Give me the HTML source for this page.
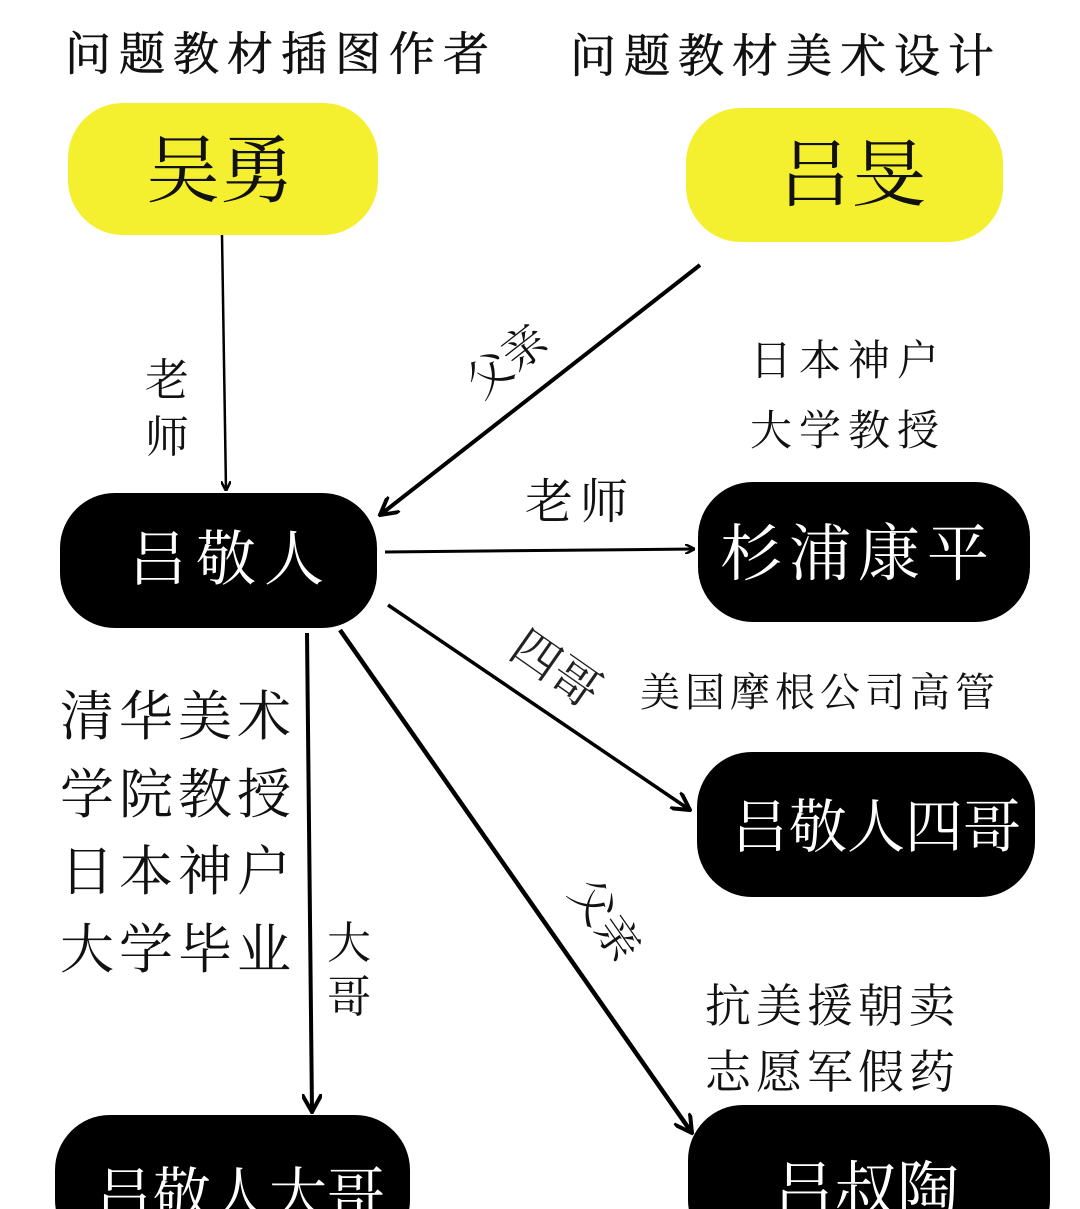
<!DOCTYPE html>
<html><head><meta charset="utf-8"><style>
html,body{margin:0;padding:0;background:#fff;}
svg{display:block}
text{font-family:"Liberation Sans","Noto Serif CJK SC","Noto Sans CJK SC",serif;}
</style></head><body>
<svg width="1080" height="1209" viewBox="0 0 1080 1209" xmlns="http://www.w3.org/2000/svg">
<defs>
<marker id="ah" markerWidth="10" markerHeight="10" refX="9" refY="5" orient="auto" markerUnits="userSpaceOnUse">
<path d="M0,0 L10,5 L0,10" fill="none" stroke="#000" stroke-width="2.5"/>
</marker>
<marker id="ahb" markerWidth="20" markerHeight="20" refX="18" refY="10" orient="auto" markerUnits="userSpaceOnUse">
<path d="M0,0 L18,10 L0,20" fill="none" stroke="#000" stroke-width="4"/>
</marker>
</defs>
<g font-size="46" fill="#111" stroke="#111" stroke-width="0.6" letter-spacing="8">
<text x="65" y="70">问题教材插图作者</text>
<text x="570" y="72">问题教材美术设计</text>
</g>
<rect x="68" y="103" width="310" height="132" rx="55" fill="#f4f030"/>
<text x="220" y="196" font-size="74" text-anchor="middle" fill="#111">吴勇</text>
<rect x="686" y="108" width="317" height="134" rx="55" fill="#f4f030"/>
<text x="852" y="200" font-size="74" text-anchor="middle" fill="#111">吕旻</text>

<line x1="222" y1="235" x2="226" y2="490" stroke="#000" stroke-width="2.5" marker-end="url(#ah)"/>
<g font-size="44" fill="#111"><text x="145" y="395">老</text><text x="145" y="452">师</text></g>

<line x1="700" y1="265" x2="380" y2="515" stroke="#000" stroke-width="4" marker-end="url(#ahb)"/>
<text x="510" y="375" font-size="44" text-anchor="middle" transform="rotate(-38 510 365)" fill="#111">父亲</text>

<g font-size="42" fill="#111" letter-spacing="7"><text x="750" y="375">日本神户</text><text x="750" y="445">大学教授</text></g>

<rect x="60" y="493" width="317" height="135" rx="55" fill="#000"/>
<text x="128" y="580" font-size="60" letter-spacing="8" fill="#fff">吕敬人</text>

<line x1="385" y1="552" x2="694" y2="549" stroke="#000" stroke-width="3" marker-end="url(#ah)"/>
<text x="525" y="518" font-size="48" letter-spacing="7" fill="#111">老师</text>

<rect x="698" y="482" width="332" height="140" rx="55" fill="#000"/>
<text x="720" y="575" font-size="62" letter-spacing="7" fill="#fff">杉浦康平</text>

<line x1="388" y1="605" x2="690" y2="810" stroke="#000" stroke-width="3.5" marker-end="url(#ahb)"/>
<text x="555" y="685" font-size="48" text-anchor="middle" transform="rotate(35 555 670)" fill="#222">四哥</text>

<text x="640" y="706" font-size="40" letter-spacing="5" fill="#111">美国摩根公司高管</text>

<rect x="697" y="752" width="338" height="145" rx="55" fill="#000"/>
<text x="876" y="847" font-size="58" text-anchor="middle" fill="#fff">吕敬人四哥</text>

<g font-size="54" fill="#111" letter-spacing="5">
<text x="60" y="735">清华美术</text>
<text x="60" y="813">学院教授</text>
<text x="60" y="890">日本神户</text>
<text x="60" y="968">大学毕业</text>
</g>

<line x1="307" y1="633" x2="312" y2="1112" stroke="#000" stroke-width="4" marker-end="url(#ahb)"/>
<g font-size="44" fill="#111"><text x="327" y="958">大</text><text x="327" y="1012">哥</text></g>

<line x1="340" y1="630" x2="692" y2="1133" stroke="#000" stroke-width="4.5" marker-end="url(#ahb)"/>
<text x="605" y="935" font-size="44" text-anchor="middle" transform="rotate(55 605 920)" fill="#111">父亲</text>

<g font-size="46" fill="#111" letter-spacing="5"><text x="705" y="1022">抗美援朝卖</text><text x="705" y="1088">志愿军假药</text></g>

<rect x="55" y="1115" width="355" height="140" rx="55" fill="#000"/>
<text x="240" y="1215" font-size="58" text-anchor="middle" fill="#fff">吕敬人大哥</text>
<rect x="688" y="1105" width="362" height="150" rx="55" fill="#000"/>
<text x="866" y="1212" font-size="62" text-anchor="middle" fill="#fff">吕叔陶</text>
</svg>
</body></html>
